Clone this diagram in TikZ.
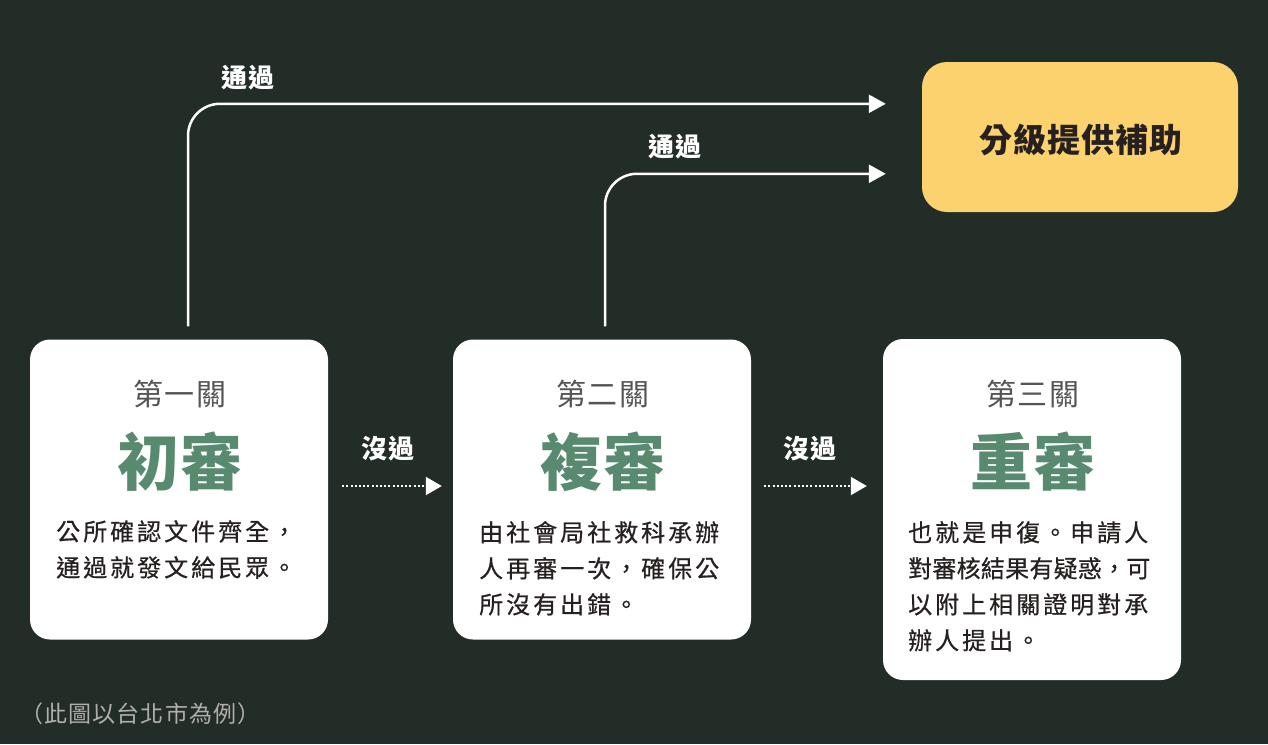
\documentclass[tikz,border=0pt]{standalone}
\usepackage{fontspec}
\setmainfont{Noto Sans CJK TC}
\usetikzlibrary{arrows.meta,calc}
\definecolor{bgc}{RGB}{34,45,39}
\definecolor{greenc}{RGB}{88,138,112}
\definecolor{grayc}{RGB}{85,85,85}
\definecolor{bodyc}{RGB}{38,32,32}
\definecolor{yellowc}{RGB}{251,210,110}
\definecolor{notec}{RGB}{175,175,175}
\newcommand{\fsz}[3]{\fontsize{#1}{#2}\selectfont\addfontfeature{#3}}
\tikzset{
  stagebox/.style={fill=white, rounded corners=20pt, minimum width=298pt, inner sep=0pt},
  lvltitle/.style={text=grayc, font=\fsz{30}{32}{LetterSpace=6}, inner sep=0pt},
  bigtitle/.style={text=greenc, font=\bfseries\fsz{62}{64}{LetterSpace=1}, inner sep=0pt},
  bodytext/.style={text=bodyc, font=\fsz{24}{36}{LetterSpace=12.5,FakeBold=0.6}, align=left, inner sep=0pt, anchor=north west},
  lbl/.style={text=white, font=\bfseries\fsz{26}{28}{LetterSpace=6}, inner sep=0pt},
  toparrow/.style={draw=white, line width=2.5pt, rounded corners=32pt, -{Triangle[length=17pt,width=18pt]}},
  dotarrow/.style={draw=white, line width=2pt, dash pattern=on 2pt off 2.2pt, -{Triangle[length=16pt,width=18pt]}}
}
\begin{document}
\begin{tikzpicture}[x=1pt,y=-1pt]
\useasboundingbox (0,0) rectangle (1268,744);
\fill[bgc] (0,0) rectangle (1268,744);
% boxes
\node[stagebox, minimum height=300pt] (b1) at (179,489.5) {};
\node[stagebox, minimum height=300pt] (b2) at (602,489.5) {};
\node[stagebox, minimum height=341pt] (b3) at (1032,509.5) {};
\node[fill=yellowc, rounded corners=25pt, minimum width=316pt, minimum height=150pt, inner sep=0pt] (yel) at (1080,137) {};
\node[text=bodyc, font=\bfseries\fsz{33}{35}{LetterSpace=3}, inner sep=0pt] (yt) at (1081,140) {分級提供補助};
% titles
\node[lvltitle] (t1) at (180,394) {第一關};
\node[bigtitle] (g1) at (180,462) {初審};
\node[lvltitle] (t2) at (603,394) {第二關};
\node[bigtitle] (g2) at (603,462) {複審};
\node[lvltitle] (t3) at (1033,394) {第三關};
\node[bigtitle] (g3) at (1033,462) {重審};
% body text
\node[bodytext] (d1) at (56,520) {公所確認文件齊全，\\通過就發文給民眾。};
\node[bodytext] (d2) at (479,521) {由社會局社救科承辦\\人再審一次，確保公\\所沒有出錯。};
\node[bodytext] (d3) at (908,521) {也就是申復。申請人\\{\addfontfeature{LetterSpace=1}對審核結果有疑惑，可}\\以附上相關證明對承\\辦人提出。};
% top arrows
\draw[toparrow] ([xshift=9pt,yshift=13pt]b1.north) |- ($(yel.north west)+(-36,42)$);
\draw[toparrow] ([xshift=3pt,yshift=13pt]b2.north) |- ($(yel.north west)+(-36,112)$);
\node[lbl] (p1) at (248,78) {通過};
\node[lbl] (p2) at (675,147) {通過};
% dotted arrows
\draw[dotarrow] ([xshift=14pt,yshift=3.5pt]b1.east) -- ([xshift=-11pt,yshift=3.5pt]b2.west);
\draw[dotarrow] ([xshift=13pt,yshift=3.5pt]b2.east) -- ([xshift=-16pt,yshift=23.5pt]b3.west);
\node[lbl] (n1) at (388,449) {沒過};
\node[lbl] (n2) at (810,449) {沒過};
% note
\node[text=notec, font=\fsz{23}{25}{LetterSpace=5}, inner sep=0pt, anchor=west] (note) at (20,714) {（此圖以台北市為例）};
\end{tikzpicture}
\end{document}
